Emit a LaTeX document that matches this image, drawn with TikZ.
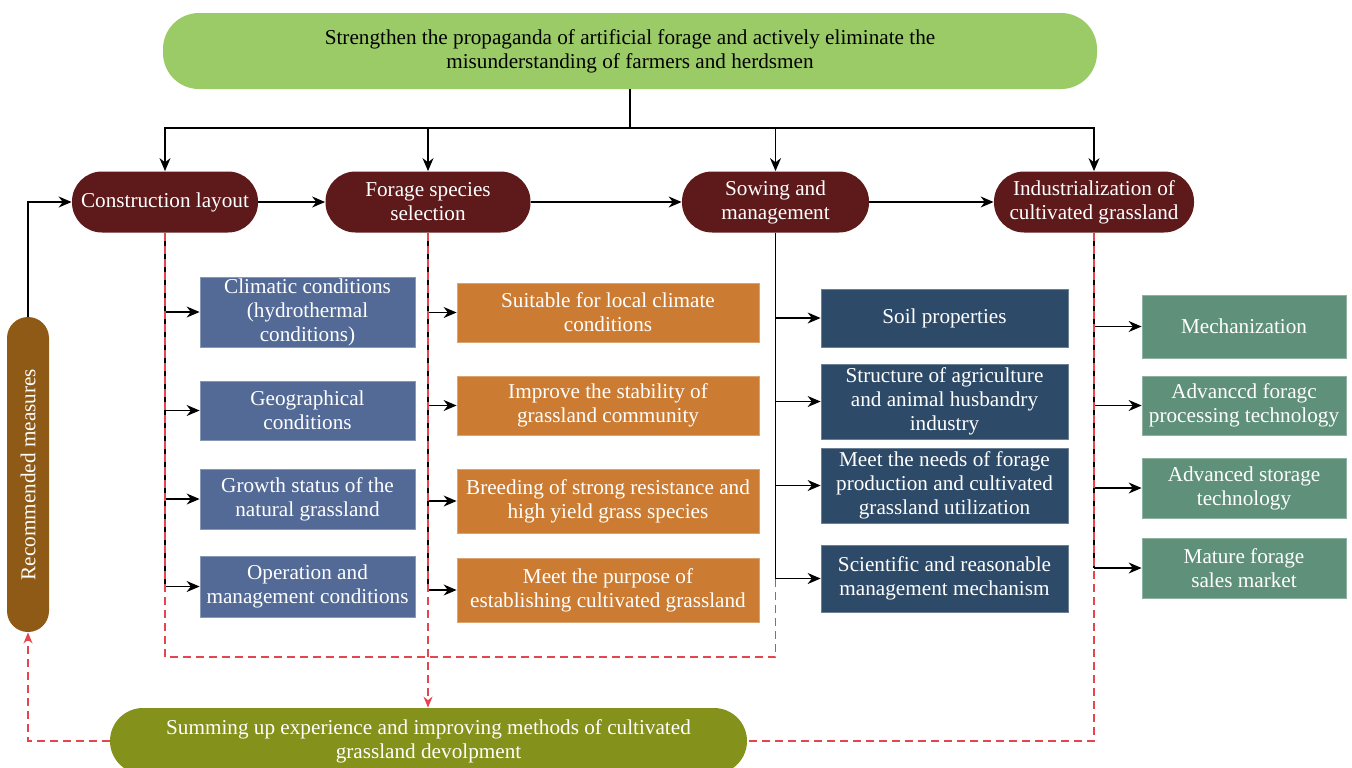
\documentclass[tikz,border=0pt]{standalone}
\usepackage{fontspec}
\setmainfont{Liberation Serif}
\usetikzlibrary{positioning,arrows.meta}
\definecolor{topgreen}{HTML}{9BCB67}
\definecolor{stagered}{HTML}{5E1A1B}
\definecolor{recbrown}{HTML}{8E5A16}
\definecolor{sumolive}{HTML}{84911B}
\definecolor{condblue}{HTML}{536A97}
\definecolor{specorange}{HTML}{CC7C32}
\definecolor{mgmtblue}{HTML}{2D4A68}
\definecolor{indgreen}{HTML}{5F907A}
\definecolor{dashred}{HTML}{E2464F}

\begin{document}
\begin{tikzpicture}[x=0.5pt,y=0.5pt,
  every node/.style={font=\fontsize{10.6}{12}\selectfont,align=center,inner sep=0pt,text=white},
  stage/.style={fill=stagered,rounded corners=15pt,minimum height=30.5pt},
  item/.style={fill=#1,draw=#1!70!white,line width=0.4pt},
  spine/.style={line width=0.7pt},
  link/.style={spine,-{Stealth[length=6.5pt,width=5.5pt]}},
  fdbk/.style={draw=dashred,line width=0.75pt,dash pattern=on 4pt off 2.5pt},
  fdbkarr/.style={fdbk,-{Stealth[length=5.5pt,width=4.5pt,fill=dashred]}}]
\useasboundingbox (0,0) rectangle (1352,-767);

\node[fill=topgreen,text=black,rounded corners=18pt,minimum width=467pt,minimum height=38pt] (top) at (630,-51) {Strengthen the propaganda of artificial forage and actively eliminate the\\misunderstanding of farmers and herdsmen};
\coordinate (bus) at (630,-128);

\node[stage,minimum width=93pt] (cl) at (165,-202) {Construction layout};
\node[stage,minimum width=102.5pt] (fs) at (428,-202) {Forage species\\selection};
\node[stage,minimum width=93.5pt] (sm) at (775.5,-202) {Sowing and\\management};
\node[stage,minimum width=100pt] (ind) at (1094,-202) {Industrialization of\\cultivated grassland};

\node[fill=recbrown,rounded corners=10.5pt,rotate=90,minimum width=157.5pt,minimum height=21pt] (rec) at (28,-474.5) {Recommended measures};
\node[fill=sumolive,rounded corners=16.5pt,minimum width=318.5pt,minimum height=33pt] (sum) at (428.5,-741) {Summing up experience and improving methods of cultivated\\grassland devolpment};

\node[item=condblue,minimum width=107.5pt,minimum height=35pt] (c1) at (307.5,-312) {Climatic conditions\\(hydrothermal\\conditions)};
\node[item=condblue,minimum width=107.5pt,minimum height=29.5pt] (c2) at (307.5,-410.5) {Geographical\\conditions};
\node[item=condblue,minimum width=107.5pt,minimum height=30pt] (c3) at (307.5,-499) {Growth status of the\\natural grassland};
\node[item=condblue,minimum width=107.5pt,minimum height=30.5pt] (c4) at (307.5,-586.5) {Operation and\\management conditions};

\node[item=specorange,minimum width=151pt,minimum height=29.5pt] (o1) at (608,-312.5) {Suitable for local climate\\conditions};
\node[item=specorange,minimum width=151pt,minimum height=29.5pt] (o2) at (608,-405.5) {Improve the stability of\\grassland community};
\node[item=specorange,minimum width=151pt,minimum height=32pt] (o3) at (608,-501) {Breeding of strong resistance and\\high yield grass species};
\node[item=specorange,minimum width=151pt,minimum height=32pt] (o4) at (608,-590) {Meet the purpose of\\establishing cultivated grassland};

\node[item=mgmtblue,minimum width=123.5pt,minimum height=29pt] (m1) at (944.5,-318) {Soil properties};
\node[item=mgmtblue,minimum width=123.5pt,minimum height=37.5pt] (m2) at (944.5,-401.5) {Structure of agriculture\\and animal husbandry\\industry};
\node[item=mgmtblue,minimum width=123.5pt,minimum height=37.5pt] (m3) at (944.5,-485.5) {Meet the needs of forage\\production and cultivated\\grassland utilization};
\node[item=mgmtblue,minimum width=123.5pt,minimum height=33.5pt] (m4) at (944.5,-578.5) {Scientific and reasonable\\management mechanism};

\node[item=indgreen,minimum width=102pt,minimum height=31.5pt] (g1) at (1244,-326.5) {Mechanization};
\node[item=indgreen,minimum width=102pt,minimum height=29.5pt] (g2) at (1244,-405.5) {Advanccd foragc\\processing technology};
\node[item=indgreen,minimum width=102pt,minimum height=30pt] (g3) at (1244,-488) {Advanced storage\\technology};
\node[item=indgreen,minimum width=102pt,minimum height=30pt] (g4) at (1244,-568) {Mature forage\\sales market};

% top bus and main chain
\draw[spine] (top) -- (bus);
\draw[link] (bus) -| (cl);
\draw[link] (bus) -| (fs);
\draw[link] (bus) -| (sm);
\draw[link] (bus) -| (ind);
\draw[link] (cl) -- (fs);
\draw[link] (fs) -- (sm);
\draw[link] (sm) -- (ind);
\draw[link] (rec) |- (cl);

% spines down to the boxes
\draw[spine] (cl) -- (cl |- c4);
\draw[link] (cl |- c1) -- (c1);
\draw[link] (cl |- c2) -- (c2);
\draw[link] (cl |- c3) -- (c3);
\draw[link] (cl |- c4) -- (c4);
\draw[spine] (fs) -- (fs |- o4);
\draw[link] (fs |- o1) -- (o1);
\draw[link] (fs |- o2) -- (o2);
\draw[link] (fs |- o3) -- (o3);
\draw[link] (fs |- o4) -- (o4);
\draw[spine] (sm) -- (sm |- m4);
\draw[link] (sm |- m1) -- (m1);
\draw[link] (sm |- m2) -- (m2);
\draw[link] (sm |- m3) -- (m3);
\draw[link] (sm |- m4) -- (m4);
\draw[spine] (ind) -- (ind |- g4);
\draw[link] (ind |- g1) -- (g1);
\draw[link] (ind |- g2) -- (g2);
\draw[link] (ind |- g3) -- (g3);
\draw[link] (ind |- g4) -- (g4);

% feedback loop
\coordinate (lp) at (165,-657);
\draw[fdbk] (cl) -- (cl |- lp) -- (sm |- lp) -- (sm |- m4);
\draw[fdbkarr] (fs) -- (fs |- sum.north);
\draw[fdbk] (ind) |- (sum);
\draw[fdbkarr] (sum) -| (rec);
\end{tikzpicture}
\end{document}
